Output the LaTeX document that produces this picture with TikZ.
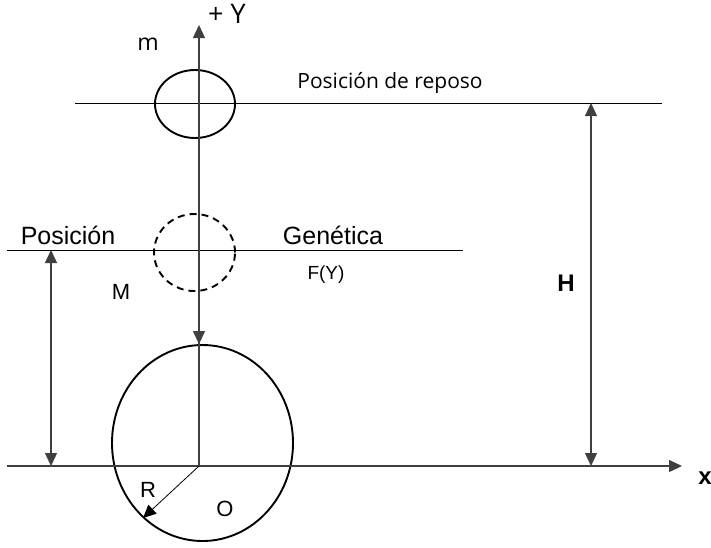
\documentclass[tikz,border=0pt]{standalone}
\usepackage{fontspec}
\setmainfont{Liberation Sans}
\newfontfamily\opfont{Open Sans}
\usetikzlibrary{arrows.meta,shapes.geometric}

\begin{document}
\begin{tikzpicture}[x=1pt, y=-1pt, >={Triangle[length=13pt,width=12pt]},
  axis/.style={draw=black!75, line width=1.3pt},
  level/.style={draw=black, line width=1pt},
  body/.style={draw=black, line width=1.9pt, ellipse, inner sep=0pt},
  txt/.style={font=\fontsize{25}{30}\selectfont, inner sep=0pt},
  small/.style={font=\fontsize{22}{26}\selectfont, inner sep=0pt},
  op/.style={font=\opfont\fontsize{21}{25}\selectfont, inner sep=0pt}]
\useasboundingbox (0,0) rectangle (711,547);
% axes
\coordinate (o) at (199,466);
\coordinate (ytip) at (199,25);
\coordinate (xl) at (7,466);
\coordinate (xtip) at (682,466);
% bodies
\node[body, minimum width=80, minimum height=68] (rest) at (195,104) {};
\node[body, dashed, dash pattern=on 7pt off 5pt, minimum width=81, minimum height=77] (gen) at (194.5,252.5) {};
\node[body, minimum width=181, minimum height=196] (earth) at (202.5,443) {};
% levels
\coordinate (r1) at (75,103);
\coordinate (r2) at (662,103);
\coordinate (g1) at (7,250);
\coordinate (g2) at (463,250);
\draw[level] (r1) -- (r2);
\draw[level] (g1) -- (g2);
\draw[axis] (xl) -- (o);
\draw[axis,->] (o) -- (xtip);
\draw[axis,->] (o) -- (ytip);
\draw[axis,->] (o |- rest.south) -- (o |- earth.north);
% heights
\coordinate (h1) at (591,103);
\coordinate (h2) at (591,466);
\coordinate (p1) at (51,250);
\coordinate (p2) at (51,466);
\draw[axis,<->] (h1) -- (h2);
\draw[axis,<->] (p1) -- (p2);
\coordinate (rtip) at (143,518);
\draw[draw=black, line width=0.8pt, ->] (o) -- (rtip);
% labels
\node[op, font=\opfont\fontsize{27}{30}\selectfont] (ylab) at (227,14) {+ Y};
\node[op, font=\opfont\fontsize{23}{26}\selectfont] (mlab) at (148,44) {m};
\node[op] (reposo) at (390,83) {Posición de reposo};
\node[txt] (pos) at (68,235) {Posición};
\node[txt] (genet) at (333,235) {Genética};
\node[small, font=\fontsize{19}{23}\selectfont] (fy) at (326,275) {F(Y)};
\node[small] (mM) at (121,292) {M};
\node[txt, font=\fontsize{24}{28}\selectfont\bfseries] (hlab) at (566,283) {H};
\node[txt, font=\fontsize{24}{28}\selectfont\bfseries] (xlab) at (705,478) {x};
\node[small] (rlab) at (148,490) {R};
\node[small] (olab) at (225,509) {O};
\end{tikzpicture}
\end{document}
